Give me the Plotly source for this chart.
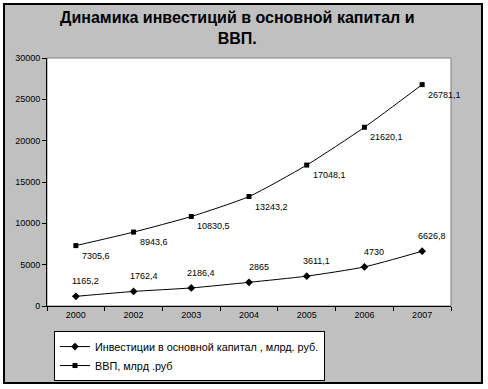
import plotly.graph_objects as go

years = ["2000", "2002", "2003", "2004", "2005", "2006", "2007"]
invest = [1165.2, 1762.4, 2186.4, 2865, 3611.1, 4730, 6626.8]
gdp = [7305.6, 8943.6, 10830.5, 13243.2, 17048.1, 21620.1, 26781.1]
invest_name = "Инвестиции в основной капитал , млрд. руб."
gdp_name = "ВВП, млрд .руб"
title_text = "Динамика инвестиций в основной капитал и<br>ВВП."
y_ticks = [0, 5000, 10000, 15000, 20000, 25000, 30000]

FONT = "Liberation Sans, Arial, sans-serif"

def fmt(v):
    s = ("%.1f" % v).rstrip("0").rstrip(".")
    return s.replace(".", ",")

fig = go.Figure()
fig.add_trace(go.Scatter(
    x=years, y=invest, name=invest_name, mode="lines+markers",
    line=dict(color="black", width=1, shape="spline", smoothing=0.6),
    marker=dict(symbol="diamond", size=6, color="black"),
))
fig.add_trace(go.Scatter(
    x=years, y=gdp, name=gdp_name, mode="lines+markers",
    line=dict(color="black", width=1, shape="spline", smoothing=0.6),
    marker=dict(symbol="square", size=5, color="black"),
))

annotations = []
for i, v in enumerate(invest):
    annotations.append(dict(x=i, y=v, xref="x", yref="y", text=fmt(v), showarrow=False,
                            xanchor="center", yanchor="bottom", xshift=10, yshift=8,
                            font=dict(family=FONT, size=9, color="black")))
for i, v in enumerate(gdp):
    annotations.append(dict(x=i, y=v, xref="x", yref="y", text=fmt(v), showarrow=False,
                            xanchor="left", yanchor="top", xshift=4, yshift=-3,
                            font=dict(family=FONT, size=9, color="black")))
annotations.append(dict(x=0.47, y=1.121, xref="paper", yref="paper", text="<b>" + title_text + "</b>",
                        showarrow=False, xanchor="center", yanchor="middle",
                        font=dict(family=FONT, size=16, color="black")))

shapes = [
    dict(type="rect", xref="paper", yref="paper", x0=-0.1064, x1=1.0767, y0=-0.3105, y1=1.2177,
         fillcolor="#C0C0C0", line=dict(color="black", width=2), layer="below"),
    dict(type="rect", xref="paper", yref="paper", x0=0, x1=1, y0=0, y1=1,
         fillcolor="white", line=dict(color="#808080", width=1), layer="below"),
]

fig.update_layout(
    width=488, height=389,
    margin=dict(l=47, r=37, t=58, b=83, autoexpand=False),
    paper_bgcolor="white", plot_bgcolor="rgba(0,0,0,0)",
    font=dict(family=FONT, size=9, color="black"),
    showlegend=True,
    legend=dict(x=0.0173, y=-0.101, xanchor="left", yanchor="top",
                bgcolor="white", bordercolor="black", borderwidth=1,
                font=dict(family=FONT, size=10.8, color="black"),
                tracegroupgap=0, itemwidth=30),
    annotations=annotations,
    shapes=shapes,
)
fig.update_xaxes(type="category", range=[-0.5, 6.5], showline=True, linecolor="black", linewidth=1,
                 ticks="outside", tickson="boundaries", ticklen=4, tickcolor="black",
                 showgrid=False, zeroline=False, fixedrange=True)
fig.update_yaxes(range=[0, 30000], tickvals=y_ticks, tickformat="d", showline=True, linecolor="black",
                 linewidth=1, ticks="outside", ticklen=4, tickcolor="black", showgrid=False,
                 zeroline=False, fixedrange=True)

fig.write_html("out.html", config={"displayModeBar": False},
               post_script="document.body.style.margin='0px';")
